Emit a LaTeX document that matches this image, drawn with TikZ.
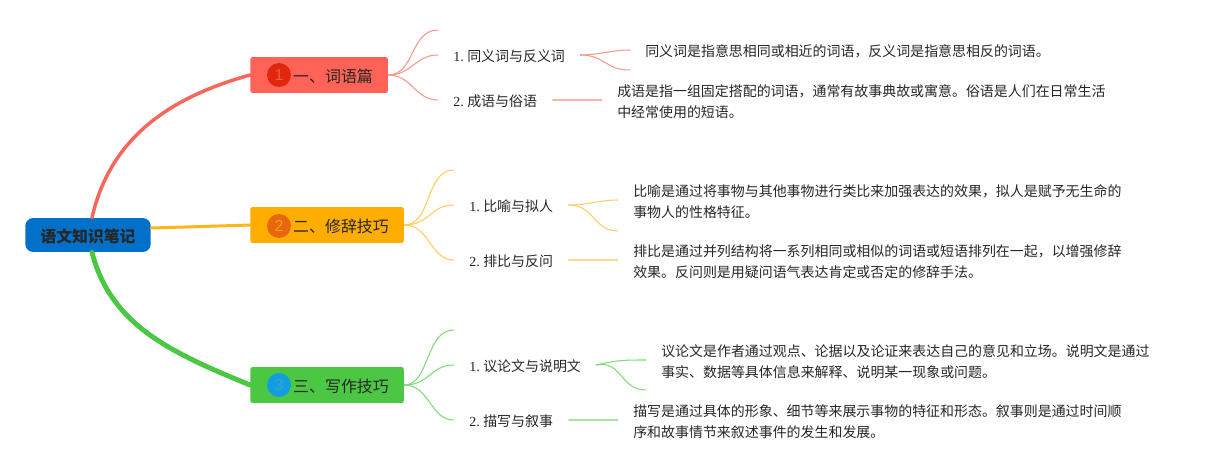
\documentclass[tikz,border=0pt]{standalone}
\usepackage{fontspec}
\setmainfont{Liberation Serif}
\setsansfont{Liberation Sans}
\newfontfamily\cjk{Noto Sans CJK SC}
\definecolor{rootblue}{HTML}{0070C8}
\definecolor{redmain}{HTML}{FF6256}
\definecolor{redline}{HTML}{F4695C}
\definecolor{redbadge}{HTML}{E0260C}
\definecolor{redfig}{HTML}{F0603C}
\definecolor{orgmain}{HTML}{FFAD00}
\definecolor{orgline}{HTML}{FFB618}
\definecolor{orgbadge}{HTML}{E8660E}
\definecolor{orgfig}{HTML}{F8A018}
\definecolor{grnmain}{HTML}{4CC744}
\definecolor{grnline}{HTML}{4CC744}
\definecolor{grnbadge}{HTML}{149CE0}
\definecolor{grnfig}{HTML}{2CB0B8}
\tikzset{
  rootbox/.style={fill=rootblue,rounded corners=4.5pt,minimum width=71.4pt,minimum height=19.3pt,inner sep=0pt,text height=10.4pt,text depth=2.2pt,font=\fontsize{9}{11}\selectfont\cjk\bfseries,text=black!85},
  branch/.style={anchor=west,rounded corners=1.2pt,minimum height=20.4pt,inner ysep=0pt,inner xsep=8.5pt,text height=10.4pt,text depth=2.2pt,font=\fontsize{9.07}{11}\selectfont\cjk,text=black!85},
  badge/.style={circle,minimum size=13.6pt,inner sep=0pt,font=\fontsize{9}{10}\selectfont\sffamily},
  leaf/.style={anchor=west,inner xsep=8.5pt,inner ysep=0pt,text height=9pt,text depth=1.8pt,font=\fontsize{7.94}{10}\selectfont,text=black!85},
  detail/.style={anchor=west,inner xsep=8.5pt,inner ysep=0pt,align=left,font=\fontsize{7.94}{11.9}\selectfont\cjk,text=black!85},
  main/.style={line width=#1,line cap=round},
  sub/.style={draw=#1!70,line width=0.6pt},
  flat/.style={draw=#1!50,line width=1pt}
}
\begin{document}
\begin{tikzpicture}[x=0.02cm,y=-0.02cm]
\useasboundingbox (0,0) rectangle (1221,470);

\node[rootbox] (root) at (88,235) {语文知识笔记};

\node[branch,fill=redmain] (b1) at (250,75) {\hspace*{15.9pt}一、词语篇};
\node[branch,fill=orgmain] (b2) at (250,225) {\hspace*{15.9pt}二、修辞技巧};
\node[branch,fill=grnmain] (b3) at (250,385) {\hspace*{15.9pt}三、写作技巧};
\node[badge,fill=redbadge,text=redfig] (c1) at (279,75) {1};
\node[badge,fill=orgbadge,text=orgfig] (c2) at (279,226) {2};
\node[badge,fill=grnbadge,text=grnfig] (c3) at (279,385) {3};

\node[leaf] (l11) at (438,55) {1.\hspace{2pt}{\cjk 同义词与反义词}};
\node[leaf] (l12) at (438,100) {2.\hspace{2pt}{\cjk 成语与俗语}};
\node[leaf] (l21) at (454,205) {1.\hspace{2pt}{\cjk 比喻与拟人}};
\node[leaf] (l22) at (454,260) {2.\hspace{2pt}{\cjk 排比与反问}};
\node[leaf] (l31) at (454,365) {1.\hspace{2pt}{\cjk 议论文与说明文}};
\node[leaf] (l32) at (454,420) {2.\hspace{2pt}{\cjk 描写与叙事}};

\node[detail] (d11) at (630,51.5) {同义词是指意思相同或相近的词语，反义词是指意思相反的词语。};
\node[detail] (d12) at (602,101.5) {成语是指一组固定搭配的词语，通常有故事典故或寓意。俗语是人们在日常生活\\中经常使用的短语。};
\node[detail] (d21) at (618,201.5) {比喻是通过将事物与其他事物进行类比来加强表达的效果，拟人是赋予无生命的\\事物人的性格特征。};
\node[detail] (d22) at (618,261.5) {排比是通过并列结构将一系列相同或相似的词语或短语排列在一起，以增强修辞\\效果。反问则是用疑问语气表达肯定或否定的修辞手法。};
\node[detail] (d31) at (646,361.5) {议论文是作者通过观点、论据以及论证来表达自己的意见和立场。说明文是通过\\事实、数据等具体信息来解释、说明某一现象或问题。};
\node[detail] (d32) at (618,421.5) {描写是通过具体的形象、细节等来展示事物的特征和形态。叙事则是通过时间顺\\序和故事情节来叙述事件的发生和发展。};

\coordinate (e11) at (438,30);
\coordinate (e12) at (630,70);
\coordinate (e21) at (454,170);
\coordinate (e22) at (618,231);
\coordinate (e31) at (454,330);
\coordinate (e32) at (646,390);

 \draw[main=2pt,redline] ([xshift=.08cm]root.north) .. controls (111,134) and (175,96) .. (b1.west);
 \draw[main=1.7pt,orgline] (root.east) ++(0,-7) .. controls (185,227) and (220,226) .. (b2.west);
 \draw[main=2.8pt,grnmain] ([xshift=.08cm]root.south) .. controls (111,327) and (175,354) .. (b3.west);

  \draw[sub=redline] (b1.east) .. controls (415,75) and (410,30) .. (e11);
  \draw[sub=redline] (b1.east) .. controls (412,75) and (415,55) .. (l11.west);
  \draw[sub=redline] (b1.east) .. controls (412,75) and (415,100) .. (l12.west);
  \draw[sub=redline] (l11.east) .. controls (600,55) and (610,50) .. ([yshift=.85pt]d11.west);
  \draw[sub=redline] (l11.east) .. controls (605,55) and (605,70) .. (e12);
  \draw[flat=redline] (l12.east) -- ([yshift=.85pt]d12.west);

  \draw[sub=orgline] (b2.east) .. controls (432,225) and (425,170) .. (e21);
  \draw[sub=orgline] (b2.east) .. controls (430,225) and (430,205) .. (l21.west);
  \draw[sub=orgline] (b2.east) .. controls (430,225) and (430,260) .. (l22.west);
  \draw[sub=orgline] (l21.east) .. controls (590,205) and (598,200) .. ([yshift=.85pt]d21.west);
  \draw[sub=orgline] (l21.east) .. controls (595,205) and (593,231) .. (e22);
  \draw[flat=orgline] (l22.east) -- ([yshift=.85pt]d22.west);

  \draw[sub=grnline] (b3.east) .. controls (430,385) and (425,330) .. (e31);
  \draw[sub=grnline] (b3.east) .. controls (430,385) and (430,365) .. (l31.west);
  \draw[sub=grnline] (b3.east) .. controls (430,385) and (430,420) .. (l32.west);
  \draw[sub=grnline] (l31.east) .. controls (618,360) and (625,360) .. ([yshift=.85pt]d31.west);
  \draw[sub=grnline] (l31.east) .. controls (622,360) and (620,390) .. (e32);
  \draw[flat=grnline] (l32.east) -- ([yshift=.85pt]d32.west);
\end{tikzpicture}
\end{document}
